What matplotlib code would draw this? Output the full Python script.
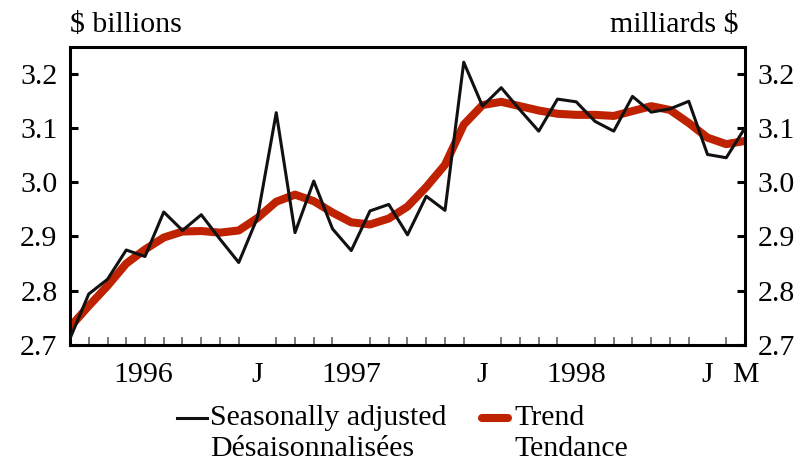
import matplotlib
matplotlib.use("Agg")
import matplotlib.pyplot as plt
from matplotlib.lines import Line2D
import numpy as np

# Monthly data, March 1996 - March 1999 ($ billions)
seasonally_adjusted = [2.712, 2.794, 2.821, 2.875, 2.863, 2.945, 2.911, 2.940, 2.895, 2.852,
                       2.935, 3.128, 2.907, 3.002, 2.914, 2.874, 2.947, 2.959, 2.903, 2.974,
                       2.948, 3.221, 3.140, 3.174, 3.133, 3.094, 3.153, 3.148, 3.112, 3.094,
                       3.158, 3.129, 3.135, 3.149, 3.051, 3.045, 3.100]
trend = [2.733, 2.772, 2.809, 2.850, 2.876, 2.898, 2.909, 2.910, 2.907, 2.911,
         2.934, 2.964, 2.977, 2.965, 2.944, 2.926, 2.922, 2.933, 2.955, 2.991,
         3.032, 3.106, 3.142, 3.148, 3.140, 3.132, 3.126, 3.124, 3.124, 3.122,
         3.131, 3.140, 3.133, 3.109, 3.082, 3.070, 3.076]
x_labels = ["1996", "J", "1997", "J", "1998", "J", "M"]
x_label_pos = [3.9, 10, 15, 22, 27, 34, 36]
y_ticks = [2.7, 2.8, 2.9, 3.0, 3.1, 3.2]
y_tick_labels = ["2.7", "2.8", "2.9", "3.0", "3.1", "3.2"]

plt.rcParams['font.family'] = ['Liberation Serif', 'DejaVu Serif']
FS = 21.5
RED = '#BE2200'

fig = plt.figure(figsize=(7.98, 4.68), dpi=100)
ax = fig.add_axes([70/798, 1-345/468, (745-70)/798, (345-47)/468])

x = np.arange(len(seasonally_adjusted))
ax.plot(x, trend, color=RED, lw=5.8, solid_capstyle='butt', zorder=2)
ax.plot(x, seasonally_adjusted, color='#111111', lw=2.2, zorder=3)

ax.set_xlim(0, len(x) - 1)
ax.set_ylim(2.7, 3.249)

for s in ax.spines.values():
    s.set_linewidth(2.2)

ax.set_yticks(y_ticks)
ax.set_yticklabels(y_tick_labels)
ax.tick_params(axis='y', which='major', direction='in', length=6, width=2.2,
               labelsize=FS, left=True, right=True, labelleft=True, labelright=True, pad=9)

ax.set_xticks(x, minor=True)
ax.set_xticks(x_label_pos)
ax.set_xticklabels(x_labels)
ax.tick_params(axis='x', which='major', length=0, labelsize=FS, pad=12)
ax.tick_params(axis='x', which='minor', direction='in', length=6, width=1.2, color='#666666')

fig.text(70/798, 1-25/468, "$ billions", fontsize=FS, ha='left', va='center')
fig.text(738/798, 1-25/468, "milliards $", fontsize=FS, ha='right', va='center')

# Legend
y1 = 1-418/468
y2 = 1-449/468
fig.add_artist(Line2D([177/798, 207/798], [y1, y1], color='#111111', lw=2.2,
                      transform=fig.transFigure))
fig.text(210/798, y1, "Seasonally adjusted", fontsize=FS, ha='left', va='center')
fig.text(210/798, y2, "Désaisonnalisées", fontsize=FS, ha='left', va='center')
fig.add_artist(Line2D([482/798, 508/798], [y1, y1], color=RED, lw=5.8,
                      solid_capstyle='round', transform=fig.transFigure))
fig.text(514/798, y1, "Trend", fontsize=FS, ha='left', va='center')
fig.text(514/798, y2, "Tendance", fontsize=FS, ha='left', va='center')

fig.savefig("out.png", dpi=100)
